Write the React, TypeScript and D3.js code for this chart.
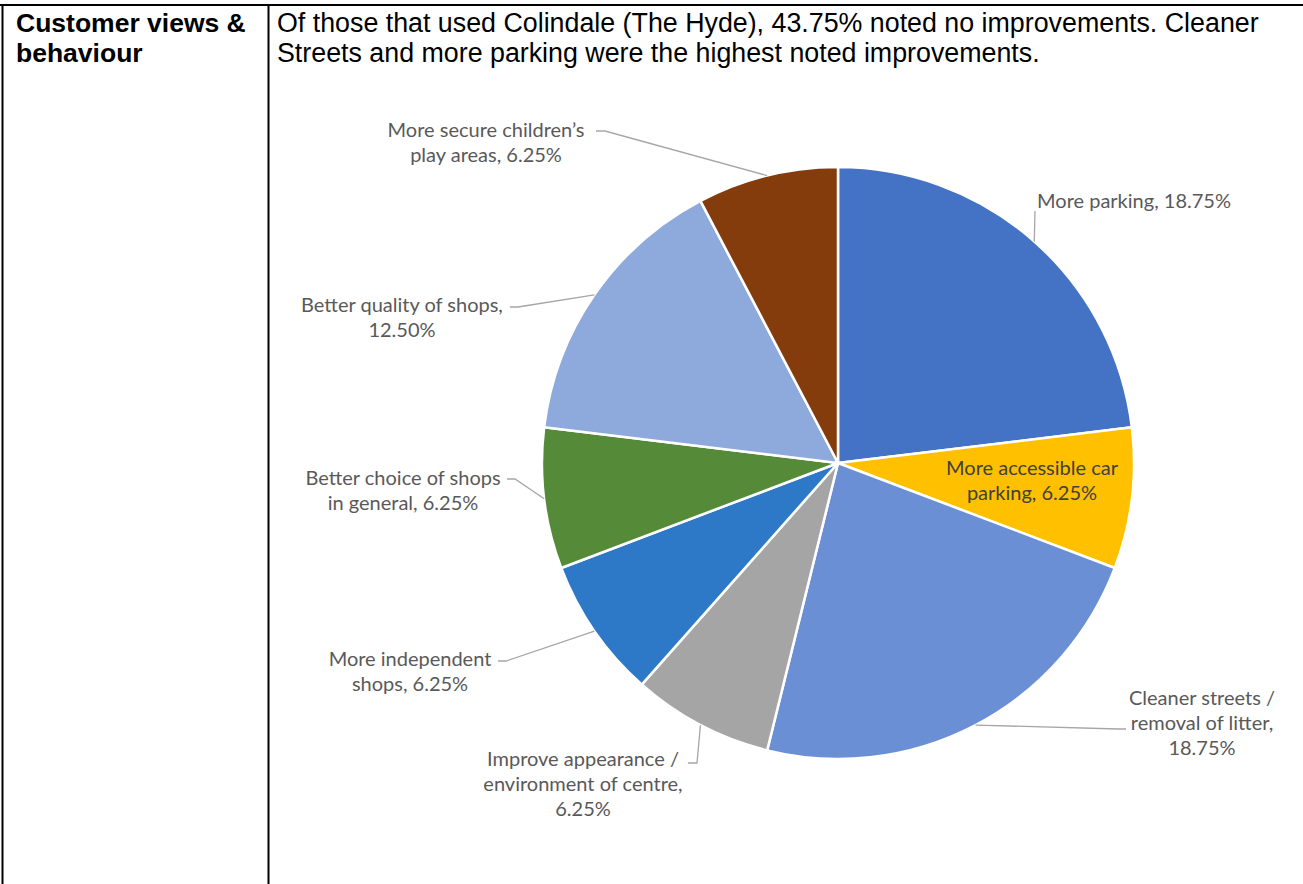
import React from "react";
import * as d3 from "d3";

// ---- data ----
const categories = [
  "More parking",
  "More accessible car parking",
  "Cleaner streets / removal of litter",
  "Improve appearance / environment of centre",
  "More independent shops",
  "Better choice of shops in general",
  "Better quality of shops",
  "More secure children’s play areas",
];
const percents = [18.75, 6.25, 18.75, 6.25, 6.25, 6.25, 12.5, 6.25];
const labelLines = [
  ["More parking, 18.75%"],
  ["More accessible car", "parking, 6.25%"],
  ["Cleaner streets /", "removal of litter,", "18.75%"],
  ["Improve appearance /", "environment of centre,", "6.25%"],
  ["More independent", "shops, 6.25%"],
  ["Better choice of shops", "in general, 6.25%"],
  ["Better quality of shops,", "12.50%"],
  ["More secure children’s", "play areas, 6.25%"],
];
const colors = ["#4472C4", "#FFC000", "#6B8FD5", "#A5A5A5", "#2E79C7", "#548A38", "#8EA9DC", "#843C0C"];

const headerLines = ["Customer views &", "behaviour"];
const bodyLines = [
  "Of those that used Colindale (The Hyde), 43.75% noted no improvements. Cleaner",
  "Streets and more parking were the highest noted improvements.",
];

// ---- layout (positions only) ----
const W = 1303, H = 884;
const CX = 838, CY = 463, R = 296;
// label block: center x, first line center y, leader elbow points (label side)
const labelLayout: { x: number; y: number; leader: [number, number][] | null; inside?: boolean }[] = [
  { x: 1134, y: 200, leader: [[1035, 211]] },
  { x: 1032, y: 467, leader: null, inside: true },
  { x: 1202, y: 697, leader: [[1118, 729], [1126, 729]] },
  { x: 583, y: 758, leader: [[697, 763], [688, 763]] },
  { x: 410, y: 658, leader: [[506, 661], [498, 661]] },
  { x: 403, y: 477, leader: [[515, 479], [507, 479]] },
  { x: 402, y: 304, leader: [[518, 307], [510, 307]] },
  { x: 486, y: 129, leader: [[605, 131], [596, 131]] },
];
const LINE_H = 25;

export default function App() {
  const pie = d3.pie<number>().sort(null).value((d) => d)(percents);
  const arc = d3.arc<d3.PieArcDatum<number>>().innerRadius(0).outerRadius(R);
  const edgePoint = (a: d3.PieArcDatum<number>) => {
    const m = (a.startAngle + a.endAngle) / 2;
    return [CX + R * Math.sin(m), CY - R * Math.cos(m)] as [number, number];
  };
  const line = d3.line();

  return (
    <div style={{ position: "fixed", left: 0, top: 0 }}>
      <svg width={W} height={H} style={{ display: "block", background: "#fff" }}>
        {/* table borders */}
        <line x1={0} x2={W} y1={5} y2={5} stroke="#000" strokeWidth={2} />
        <line x1={2.5} x2={2.5} y1={4} y2={H} stroke="#000" strokeWidth={2} />
        <line x1={268.5} x2={268.5} y1={4} y2={H} stroke="#000" strokeWidth={2} />

        {headerLines.map((t, i) => (
          <text key={"h" + i} x={16} y={32 + i * 30} fontFamily="'Liberation Sans', Arial, sans-serif"
            fontWeight="bold" fontSize={26.5} fill="#000">{t}</text>
        ))}
        {bodyLines.map((t, i) => (
          <text key={"b" + i} x={277} y={32 + i * 30} fontFamily="'Liberation Sans', Arial, sans-serif"
            fontSize={26.8} fill="#000">{t}</text>
        ))}

        {/* pie */}
        <g transform={`translate(${CX},${CY})`}>
          {pie.map((a, i) => (
            <path key={categories[i]} d={arc(a) || ""} fill={colors[i]} stroke="#fff" strokeWidth={2.5}
              strokeLinejoin="round" />
          ))}
        </g>

        {/* leader lines */}
        {pie.map((a, i) => {
          const L = labelLayout[i];
          if (!L.leader) return null;
          const pts: [number, number][] = [edgePoint(a), ...L.leader];
          return <path key={"l" + i} d={line(pts) || ""} fill="none" stroke="#A6A6A6" strokeWidth={1.3} />;
        })}

        {/* labels */}
        {labelLines.map((lines, i) => {
          const L = labelLayout[i];
          return (
            <text key={"t" + i} textAnchor="middle" fontFamily="Lato, 'Open Sans', sans-serif" fontSize={20}
              fill={L.inside ? "#404040" : "#595959"}>
              {lines.map((t, j) => (
                <tspan key={j} x={L.x} y={L.y + j * LINE_H} dominantBaseline="central">{t}</tspan>
              ))}
            </text>
          );
        })}
      </svg>
    </div>
  );
}
